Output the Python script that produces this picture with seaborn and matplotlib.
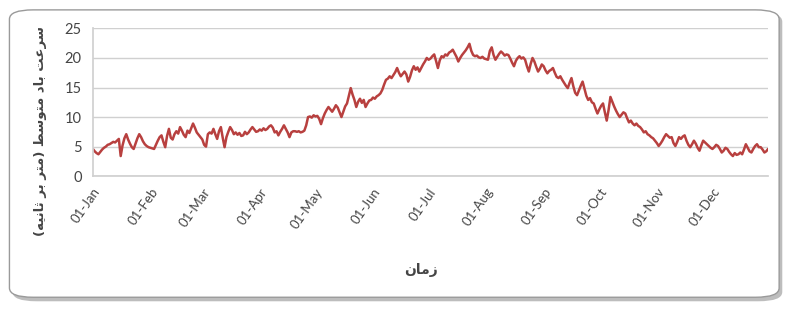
import matplotlib
matplotlib.use("Agg")
import matplotlib.pyplot as plt
import matplotlib.dates as mdates
from matplotlib.patches import FancyBboxPatch
import seaborn as sns
import pandas as pd

C_LINHA = "#b8403f"
C_TEXTO = "#454545"
C_GRADE = "#d0d0d0"

# daily mean wind speed (m/s), one list per month
jan = [4.6, 4.2, 3.9, 3.7, 4.1, 4.5, 4.8, 5.0, 5.3, 5.4, 5.6, 5.8, 5.7, 6.0, 6.3, 3.4,
       5.2, 6.4, 7.1, 6.2, 5.5, 4.9, 4.6, 5.5, 6.4, 7.1, 6.6, 5.9, 5.4, 5.1, 4.9]
feb = [4.8, 4.7, 4.6, 5.3, 6.0, 6.6, 6.9, 5.8, 4.9, 6.8, 8.0, 6.5, 6.2, 7.1, 7.6, 7.2,
       8.3, 7.7, 7.0, 6.6, 7.7, 7.3, 8.1, 8.9, 8.2, 7.4, 7.0, 6.6]
mar = [6.2, 5.3, 5.0, 7.1, 7.4, 7.2, 8.0, 7.1, 6.3, 7.6, 8.3, 6.5, 4.9, 6.6, 7.5, 8.3,
       7.8, 7.1, 7.4, 7.0, 7.3, 6.8, 6.9, 7.5, 7.1, 7.4, 7.9, 8.3, 7.9, 7.5, 7.6]
apr = [7.9, 7.7, 8.1, 7.8, 8.0, 8.4, 8.6, 8.2, 7.4, 7.6, 6.9, 7.5, 8.0, 8.6, 8.0, 7.4,
       6.6, 7.4, 7.6, 7.6, 7.5, 7.6, 7.4, 7.5, 7.7, 8.6, 10.0, 10.1, 9.9, 10.3]
may = [10.1, 10.2, 9.7, 8.8, 9.8, 10.6, 11.2, 11.7, 11.3, 10.9, 11.4, 12.0, 11.6, 10.8,
       10.0, 10.9, 11.8, 12.3, 13.6, 14.9, 13.8, 12.9, 11.7, 12.6, 13.1, 12.4, 12.9, 11.7,
       12.3, 12.8, 12.9]
jun = [13.3, 13.1, 13.5, 13.7, 14.0, 14.6, 15.5, 16.3, 16.5, 16.9, 16.6, 17.1, 17.6, 18.3,
       17.5, 16.9, 17.3, 17.7, 17.2, 16.0, 16.8, 17.9, 18.6, 18.0, 18.4, 17.7, 18.3, 18.9,
       19.4, 20.0]
jul = [19.7, 19.9, 20.3, 20.6, 19.5, 18.3, 19.6, 20.3, 20.1, 20.6, 20.4, 20.9, 21.1, 21.4,
       20.8, 20.2, 19.4, 20.0, 20.5, 20.9, 21.3, 21.8, 22.4, 21.2, 20.5, 20.3, 20.4, 20.1,
       20.0, 20.2, 19.9]
aug = [19.8, 19.7, 21.2, 21.8, 20.5, 19.7, 20.2, 20.7, 21.1, 20.8, 20.4, 20.6, 20.5, 19.9,
       19.2, 18.6, 19.5, 20.0, 20.3, 19.9, 20.1, 19.7, 18.6, 17.7, 19.0, 20.0, 19.4, 18.5,
       17.7, 18.2, 18.9]
sep = [18.6, 17.9, 17.4, 17.8, 18.0, 18.3, 17.5, 16.8, 16.6, 16.9, 16.3, 15.8, 15.3, 14.9,
       15.8, 16.6, 15.2, 14.1, 13.7, 14.5, 15.3, 16.0, 14.8, 13.6, 12.9, 13.2, 12.5, 12.3,
       11.4, 10.6]
oct_ = [11.3, 11.9, 12.3, 10.8, 9.4, 11.2, 13.4, 12.6, 11.8, 11.1, 10.5, 10.0, 10.4, 10.8,
        10.6, 9.8, 9.1, 9.4, 8.9, 8.6, 8.9, 8.5, 8.3, 7.9, 7.4, 7.6, 7.1, 6.9, 6.6, 6.4, 6.0]
nov = [5.6, 5.1, 5.5, 6.0, 6.6, 7.1, 6.8, 6.5, 6.6, 5.6, 5.1, 5.8, 6.6, 6.3, 6.7, 6.9,
       6.0, 5.3, 4.9, 5.4, 6.0, 5.5, 4.8, 4.3, 5.2, 6.0, 5.7, 5.4, 5.1, 4.8]
dec = [4.6, 4.9, 5.3, 5.1, 4.6, 4.0, 4.3, 4.8, 4.6, 4.1, 3.7, 3.4, 3.9, 3.6, 3.7, 4.0,
       3.7, 4.5, 5.4, 4.8, 4.2, 4.0, 4.6, 5.1, 5.4, 4.9, 4.9, 4.5, 4.0, 4.2, 4.6]

y_ticks = [0, 5, 10, 15, 20, 25]

# Persian labels written in visual order with presentation forms,
# because matplotlib does no Arabic shaping by itself
rotulo_x = "\uFEE5\uFE8E\uFEE3\uFEAF"  # زمان
rotulo_y = ("(" + "\uFEEA\uFBFF\uFEE7\uFE8E\uFE9B" + " " + "\uFEAE\uFE91" + " "
            + "\uFEAE\uFE98\uFEE3" + ")" + " " + "\uFEC2\uFEB3\uFEEE\uFE98\uFEE3" + " "
            + "\uFEA9\uFE8E\uFE91" + " " + "\uFE96\uFECB\uFEAE\uFEB3")  # سرعت باد متوسط (متر بر ثانیه)

valores = jan + feb + mar + apr + may + jun + jul + aug + sep + oct_ + nov + dec
df = pd.DataFrame({
    "data": pd.date_range("2013-01-01", periods=len(valores), freq="D"),
    "vento": valores,
})

sns.set_theme(style="white")
plt.rcParams['font.family'] = ['Lato', 'DejaVu Sans']
plt.rcParams['text.color'] = C_TEXTO
plt.rcParams['xtick.color'] = C_TEXTO
plt.rcParams['ytick.color'] = C_TEXTO

fig = plt.figure(figsize=(7.87, 3.09), dpi=100)

# rounded chart frame with a soft shadow
sombra = FancyBboxPatch((0.016, 0.025), 0.978, 0.935, boxstyle="round,pad=0,rounding_size=0.03",
                        transform=fig.transFigure, facecolor="#bdbdbd", edgecolor="none", zorder=-2)
moldura = FancyBboxPatch((0.012, 0.038), 0.978, 0.93, boxstyle="round,pad=0,rounding_size=0.03",
                         transform=fig.transFigure, facecolor="white", edgecolor="#9a9a9a",
                         linewidth=1.0, zorder=-1)
fig.patches.extend([sombra, moldura])

ax = fig.add_axes([0.118, 0.430, 0.858, 0.478])
ax.set_facecolor("none")
ax.set_zorder(2)

sns.lineplot(data=df, x="data", y="vento", ax=ax, color=C_LINHA, linewidth=1.8)

ax.set_xlim(df["data"].iloc[0], df["data"].iloc[-1])
ax.set_ylim(0, 25)
ax.set_yticks(y_ticks)
ax.yaxis.grid(True, color=C_GRADE, linewidth=1.0)
ax.xaxis.grid(False)

ax.xaxis.set_major_locator(mdates.MonthLocator())
ax.xaxis.set_major_formatter(mdates.DateFormatter("%d-%b"))
plt.setp(ax.get_xticklabels(), rotation=55, ha="right", rotation_mode="anchor", fontsize=9.5)
plt.setp(ax.get_yticklabels(), fontsize=10.5)
ax.tick_params(axis="x", length=0, pad=7)
ax.tick_params(axis="y", length=0, pad=8)

for lado in ["top", "right"]:
    ax.spines[lado].set_visible(False)
ax.spines["left"].set_color(C_GRADE)
ax.spines["bottom"].set_color(C_GRADE)

ax.set_xlabel("")
ax.set_ylabel("")
fig.text(0.535, 0.125, rotulo_x, ha="center", va="center", fontsize=10, weight="bold",
         family=["DejaVu Sans"])
fig.text(0.052, 0.575, rotulo_y, ha="center", va="center", rotation=90, fontsize=9.5,
         weight="bold", family=["DejaVu Sans"])

fig.savefig("out.png", dpi=100)
